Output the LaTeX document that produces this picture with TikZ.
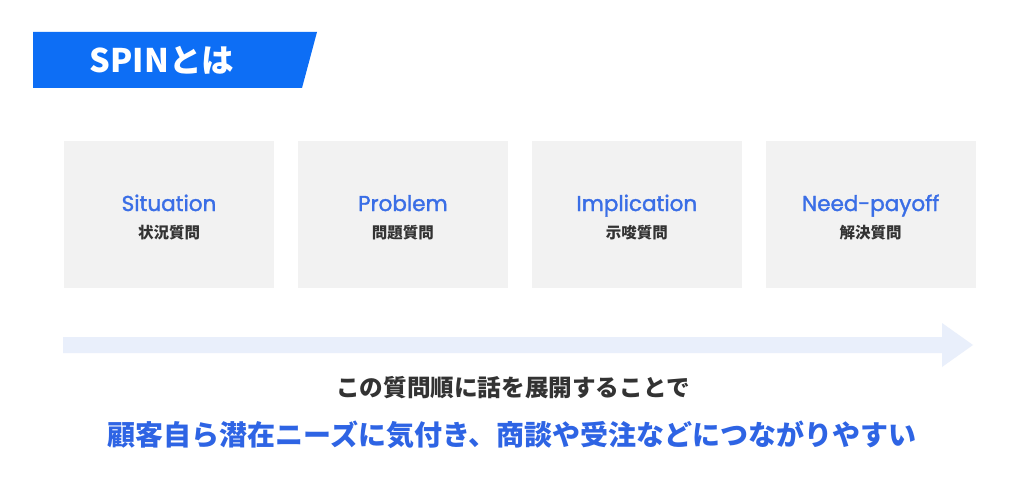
\documentclass[tikz,border=0pt]{standalone}
\usepackage{fontspec}
\usetikzlibrary{positioning}
\newfontfamily\jpfont{Noto Sans CJK JP}
\newfontfamily\headfont{Poppins}[FakeBold=1.6]

\definecolor{spinblue}{HTML}{0D6EF5}
\definecolor{headblue}{HTML}{3A6EE6}
\definecolor{leadblue}{HTML}{2E64E4}
\definecolor{boxgray}{HTML}{F2F2F2}
\definecolor{flowtint}{HTML}{E9EFFB}
\definecolor{inkgray}{HTML}{333333}

\begin{document}
\begin{tikzpicture}[x=1pt, y=-1pt,
  qbox/.style={fill=boxgray, minimum width=210pt, minimum height=147pt, inner sep=0pt},
  qtitle/.style={text=headblue, font=\headfont\fontsize{21.5}{26}\selectfont, inner sep=0pt, anchor=base},
  qsub/.style={text=inkgray, font=\jpfont\bfseries\fontsize{15.5}{18}\selectfont, inner sep=0pt},
  banner text/.style={text=white, font=\jpfont\bfseries\fontsize{32.5}{36}\selectfont, inner sep=0pt, anchor=base},
  lead/.style={text=inkgray, font=\jpfont\bfseries\fontsize{23.6}{28}\selectfont, inner sep=0pt},
  punch/.style={text=leadblue, font=\jpfont\bfseries\fontsize{28}{32}\selectfont, inner sep=0pt}]

  \useasboundingbox[fill=white] (0,0) rectangle (1024,492);

  % heading banner
  \fill[spinblue] (33,32) -- (317,32) -- (302,88) -- (33,88) -- cycle;
  \node[banner text] (spin) at (162,73) {SPINとは};

  % the four question boxes
  \node[qbox] (sit) at (169,214.5) {};
  \node[qbox, right=23.5pt of sit] (prob) {};
  \node[qbox, right=23.5pt of prob] (impl) {};
  \node[qbox, right=23.5pt of impl] (need) {};

  \node[qtitle] (sitT) at ([yshift=3.5pt]sit.center) {Situation};
  \node[qsub] (sitS) at ([yshift=-18.5pt]sit.center) {状況質問};
  \node[qtitle] (probT) at ([yshift=3.5pt]prob.center) {Problem};
  \node[qsub] (probS) at ([yshift=-18.5pt]prob.center) {問題質問};
  \node[qtitle] (implT) at ([yshift=3.5pt]impl.center) {Implication};
  \node[qsub] (implS) at ([yshift=-18.5pt]impl.center) {示唆質問};
  \node[qtitle] (needT) at ([yshift=3.5pt]need.center) {Need-payoff};
  \node[qsub] (needS) at ([yshift=-18.5pt]need.center) {解決質問};

  % flow arrow
  \fill[flowtint] (63,337) -- (942,337) -- (942,323) -- (973,345)
    -- (942,367) -- (942,353) -- (63,353) -- cycle;

  % closing lines
  \node[lead] (order) at (513,388) {この質問順に話を展開することで};
  \node[punch] (gain) at (512,434.5) {顧客自ら潜在ニーズに気付き、商談や受注などにつながりやすい};
\end{tikzpicture}
\end{document}
